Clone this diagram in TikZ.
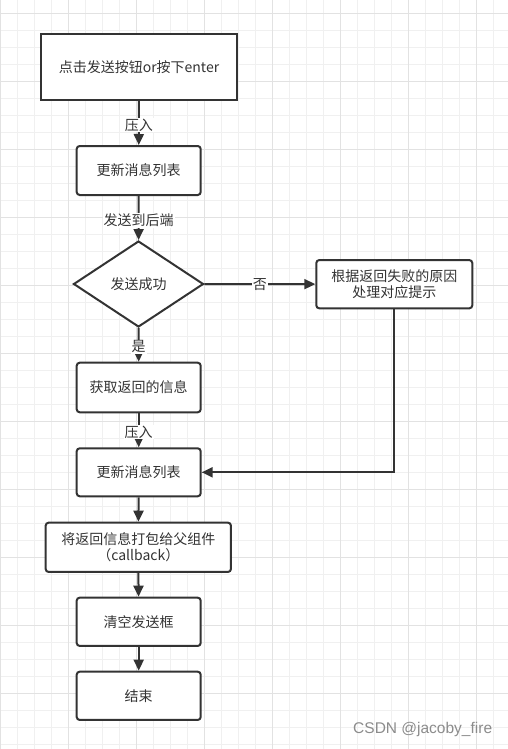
\documentclass[tikz,border=0pt]{standalone}
\usepackage{fontspec}
\setmainfont{Noto Sans CJK SC}
\newfontfamily\wmfont{Liberation Sans}
\usetikzlibrary{shapes.geometric,arrows.meta}
\definecolor{ink}{HTML}{333333}
\definecolor{gridminor}{HTML}{F0F0F0}
\definecolor{gridmajor}{HTML}{E2E2E2}
\definecolor{wmgray}{HTML}{8C8C8C}
\tikzset{
  box/.style={draw=ink, line width=2pt, rounded corners=3pt, fill=white, text=ink,
    inner sep=0pt, minimum width=124pt, minimum height=49pt, align=center,
    font=\fontsize{14}{16.5}\selectfont},
  dia/.style={diamond, draw=ink, line width=2pt, fill=white, text=ink, inner sep=0pt,
    minimum width=130pt, minimum height=86pt, font=\fontsize{14}{16.5}\selectfont},
  conn/.style={draw=ink, line width=2pt, -{Triangle[length=11pt,width=10pt]}},
  lbl/.style={fill=white, text=ink, inner sep=1pt, font=\fontsize{14}{16}\selectfont}
}
\begin{document}
\begin{tikzpicture}[x=1pt,y=-1pt]
\useasboundingbox (0,0) rectangle (508,749);
\fill[white] (0,0) rectangle (508,749);
% grid
\foreach \i in {0,...,29} \draw[gridminor, line width=1pt] ({0.7+17*\i},0) -- ({0.7+17*\i},749);
\foreach \j in {0,...,43} \draw[gridminor, line width=1pt] (0,{13.3+17*\j}) -- (508,{13.3+17*\j});
\foreach \i in {0,...,7} \draw[gridmajor, line width=1pt] ({0.7+68*\i},0) -- ({0.7+68*\i},749);
\foreach \j in {0,...,10} \draw[gridmajor, line width=1pt] (0,{13.3+68*\j}) -- (508,{13.3+68*\j});
% nodes
\node[box, rounded corners=0pt, minimum width=196.6pt, minimum height=66pt] (b1) at (139,66.7) {点击发送按钮or按下enter};
\node[box] (b2) at (138.7,170.5) {更新消息列表};
\node[dia] (d) at (138.5,284) {发送成功};
\node[box, minimum width=156pt, minimum height=48.3pt] (r) at (394.3,284.2) {根据返回失败的原因\\处理对应提示};
\node[box, minimum height=49.6pt] (b3) at (138.7,387.5) {获取返回的信息};
\node[box, minimum height=48pt] (b4) at (138.7,472.3) {更新消息列表};
\node[box, minimum width=185.3pt, minimum height=49.3pt] (b5) at (138.3,547.3) {将返回信息打包给父组件\\（callback）};
\node[box, minimum height=48.3pt] (b6) at (138.7,621.8) {清空发送框};
\node[box, minimum height=48.3pt] (b7) at (138.7,695.8) {结束};
% connectors
\draw[conn] (b1) -- node[lbl, pos=0.55] {压入} (b2);
\draw[conn] (b2) -- node[lbl, pos=0.55] {发送到后端} (d);
\draw[conn] (d) -- node[lbl, pos=0.5] {否} (r);
\draw[conn] (d) -- node[lbl, pos=0.56] {是} (b3);
\draw[conn] (b3) -- node[lbl, pos=0.55] {压入} (b4);
\draw[conn] (r.south) |- (b4.east);
\draw[conn] (b4) -- (b5);
\draw[conn] (b5) -- (b6);
\draw[conn] (b6) -- (b7);
% watermark
\node[text=wmgray, font=\wmfont\fontsize{15.5}{17}\selectfont, inner sep=0pt] (wm) at (422.7,729.5) {CSDN @jacoby\_fire};
\end{tikzpicture}
\end{document}
